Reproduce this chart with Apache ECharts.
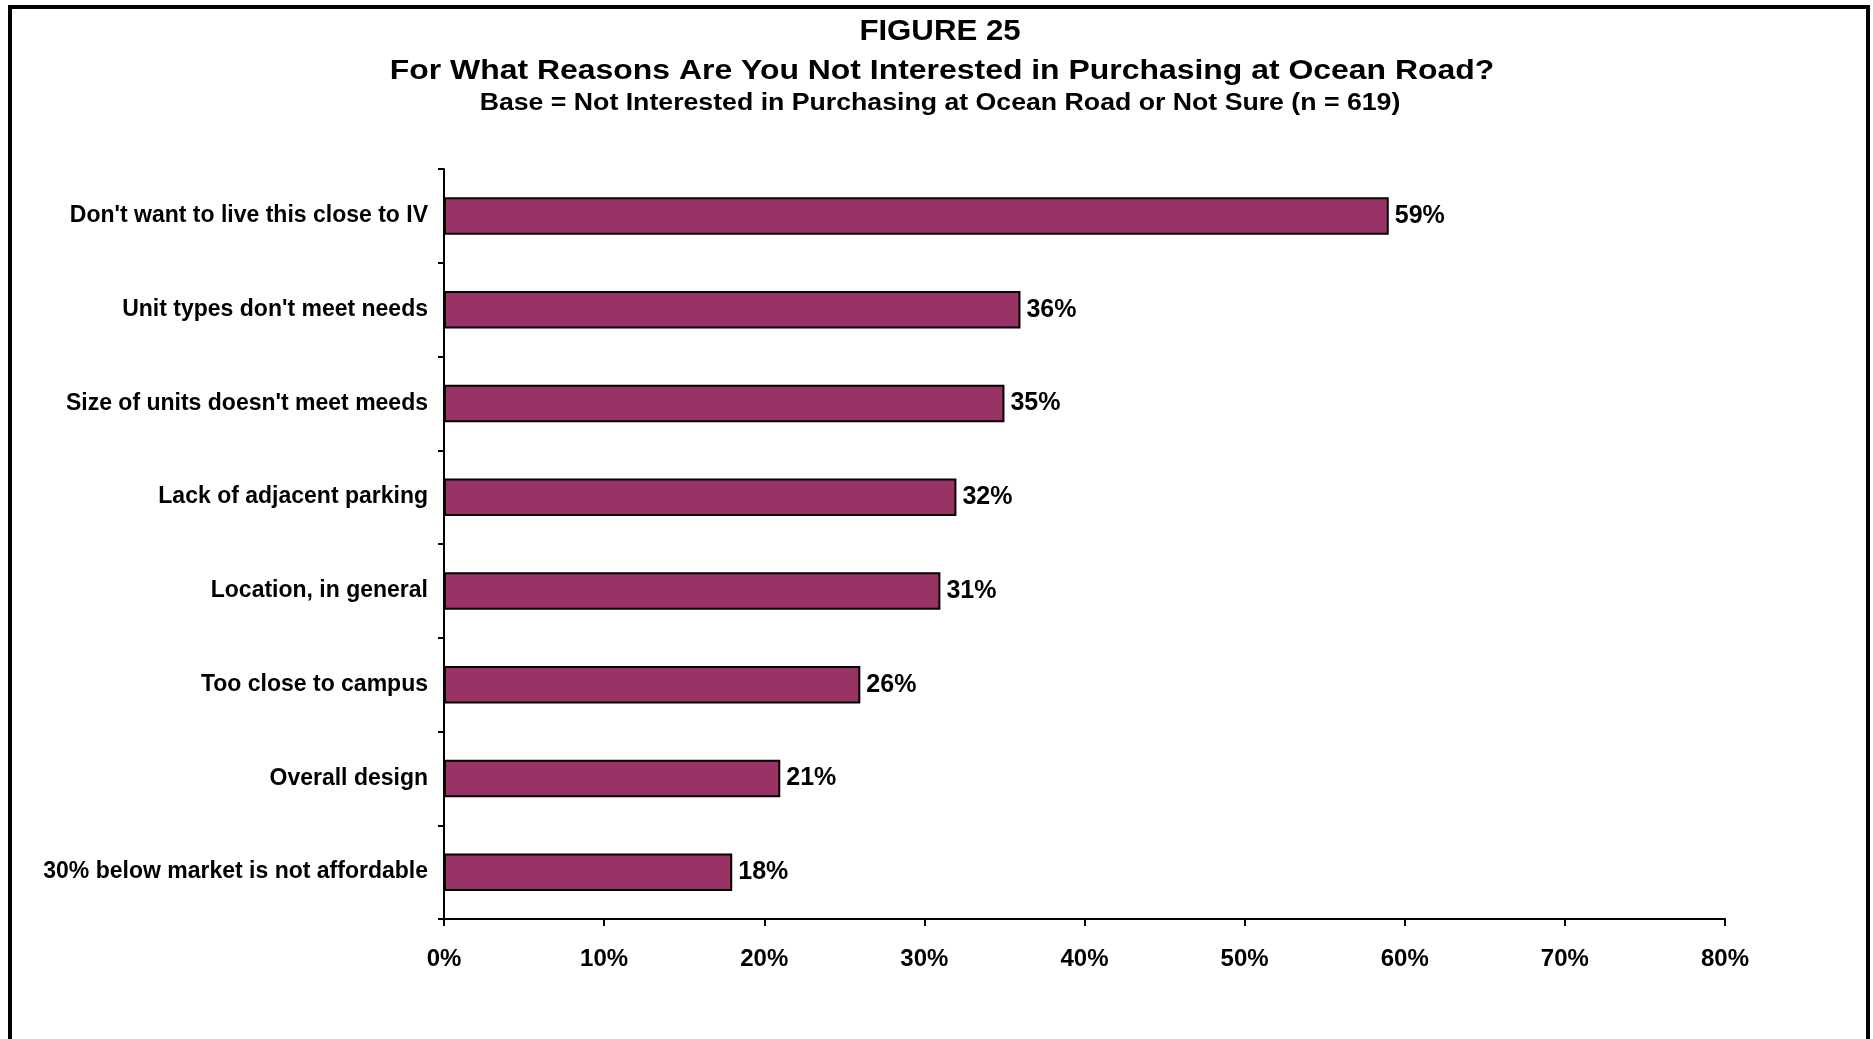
<!DOCTYPE html>
<html>
<head>
<meta charset="utf-8">
<script src="https://cdn.jsdelivr.net/npm/echarts@6/dist/echarts.min.js"></script>
<style>
html,body{margin:0;padding:0;background:#fff;}
#chart{width:1873px;height:1039px;}
</style>
</head>
<body>
<div id="chart"></div>
<script>
const titleLines = [
  'FIGURE 25',
  'For What Reasons Are You Not Interested in Purchasing at Ocean Road?',
  'Base = Not Interested in Purchasing at Ocean Road or Not Sure (n = 619)'
];
const categories = [
  "Don't want to live this close to IV",
  "Unit types don't meet needs",
  "Size of units doesn't meet meeds",
  "Lack of adjacent parking",
  "Location, in general",
  "Too close to campus",
  "Overall design",
  "30% below market is not affordable"
];
const values = [59, 36, 35, 32, 31, 26, 21, 18];
const xTicks = { min: 0, max: 80, interval: 10 };

const FONT = '"Liberation Sans", Arial, Helvetica, sans-serif';
const chart = echarts.init(document.getElementById('chart'), null, { renderer: 'canvas' });

chart.setOption({
  backgroundColor: '#ffffff',
  animation: false,
  graphic: [
    { type: 'rect', z: 0, silent: true,
      shape: { x: 10, y: 7, width: 1858, height: 1100 },
      style: { fill: null, stroke: '#000', lineWidth: 4 } },
    { type: 'text', x: 940, y: 32, scaleX: 1.04,
      style: { text: titleLines[0], font: 'bold 30px ' + FONT, fill: '#000', align: 'center', verticalAlign: 'middle' } },
    { type: 'text', x: 942, y: 71, scaleX: 1.14,
      style: { text: titleLines[1], font: 'bold 28px ' + FONT, fill: '#000', align: 'center', verticalAlign: 'middle' } },
    { type: 'text', x: 940, y: 104, scaleX: 1.16,
      style: { text: titleLines[2], font: 'bold 23px ' + FONT, fill: '#000', align: 'center', verticalAlign: 'middle' } }
  ],
  grid: { left: 444, right: 148, top: 169, bottom: 120, containLabel: false },
  xAxis: {
    type: 'value',
    min: xTicks.min, max: xTicks.max, interval: xTicks.interval,
    axisLine: { show: true, lineStyle: { color: '#000', width: 2 } },
    axisTick: { show: true, length: 7, lineStyle: { color: '#000', width: 2 } },
    splitLine: { show: false },
    axisLabel: { formatter: '{value}%', color: '#000', fontSize: 24, fontWeight: 'bold', fontFamily: FONT, margin: 28 }
  },
  yAxis: {
    type: 'category',
    inverse: true,
    data: categories,
    axisLine: { show: true, lineStyle: { color: '#000', width: 2 } },
    axisTick: { show: true, length: 6, lineStyle: { color: '#000', width: 2 } },
    axisLabel: { color: '#000', fontSize: 23, fontWeight: 'bold', fontFamily: FONT, margin: 16 }
  },
  series: [{
    type: 'bar',
    data: values,
    barWidth: '40%',
    itemStyle: { color: '#993366', borderColor: '#000', borderWidth: 2 },
    label: { show: true, position: 'right', distance: 6, formatter: '{c}%', color: '#000', fontSize: 25, fontWeight: 'bold', fontFamily: FONT }
  }]
});
</script>
</body>
</html>
